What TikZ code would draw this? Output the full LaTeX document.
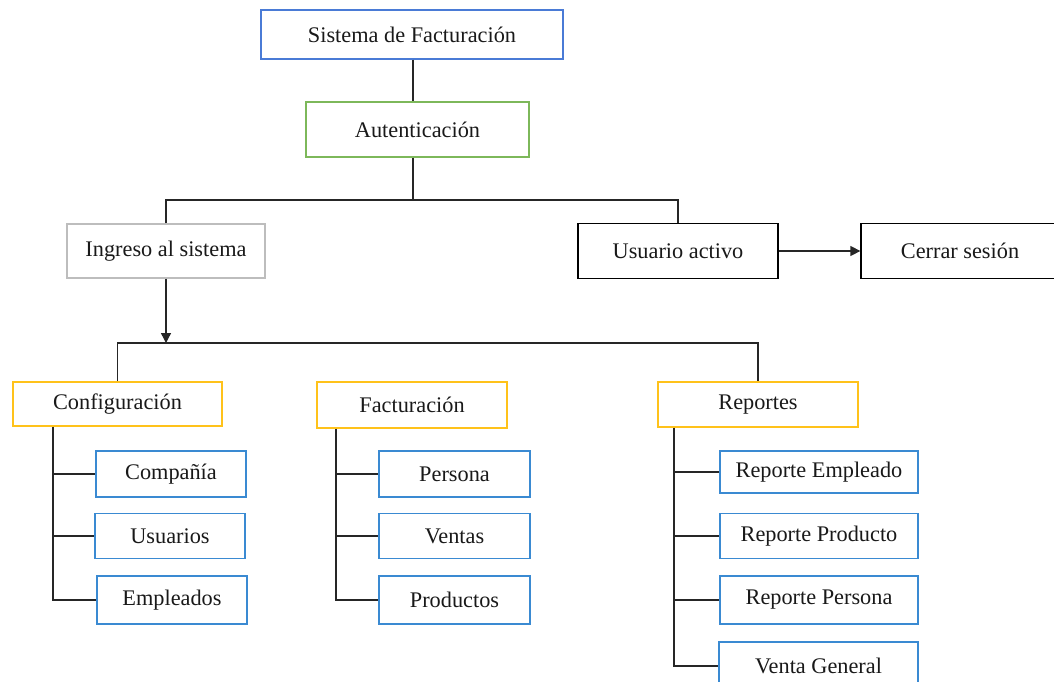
\documentclass[tikz,border=0pt]{standalone}
\usepackage{fontspec}
\setmainfont{Liberation Serif}
\usetikzlibrary{arrows.meta}
\definecolor{cblue}{HTML}{4A7BD6}
\definecolor{cgreen}{HTML}{7DB85A}
\definecolor{cgrey}{HTML}{BDBDBD}
\definecolor{cyellow}{HTML}{FFC21A}
\definecolor{cchild}{HTML}{3A8AD2}
\definecolor{cline}{HTML}{262626}
\tikzset{
  box/.style={draw, rectangle, inner sep=0pt, line width=1.3pt, fill=white,
    font=\fontsize{22.3}{26}\selectfont, text=black!90},
  conn/.style={draw=cline, line width=1.4pt},
  tip/.style={-{Triangle[length=10pt,width=10pt]}}
}
\begin{document}
\begin{tikzpicture}[x=1pt,y=-1pt]
\useasboundingbox (0,0) rectangle (1054,682);
\clip (0,0) rectangle (1054,682);
\fill[white] (0,0) rectangle (1054,682);

% nodes
\node[box, draw=cblue, minimum width=302, minimum height=49] (sis) at (412,34.5) {Sistema de Facturación};
\node[box, draw=cgreen, minimum width=223, minimum height=55] (aut) at (417.5,129.5) {Autenticación};
\node[box, draw=cgrey, minimum width=198, minimum height=54] (ing) at (166,251) {Ingreso al sistema};
\node[box, draw=black, minimum width=200, minimum height=55] (usu) at (678,251) {Usuario activo};
\node[box, draw=black, minimum width=198, minimum height=55] (cer) at (960,251) {Cerrar sesión};

\node[box, draw=cyellow, minimum width=209, minimum height=44] (conf) at (117.5,404) {Configuración};
\node[box, draw=cyellow, minimum width=190, minimum height=46] (fac) at (412,405) {Facturación};
\node[box, draw=cyellow, minimum width=200, minimum height=45] (rep) at (758,404.5) {Reportes};

\node[box, draw=cchild, minimum width=150, minimum height=46] (comp) at (171,474) {Compañía};
\node[box, draw=cchild, minimum width=150, minimum height=45] (usr) at (170,536) {Usuarios};
\node[box, draw=cchild, minimum width=150, minimum height=48] (emp) at (172,600) {Empleados};

\node[box, draw=cchild, minimum width=151, minimum height=46] (per) at (454.5,474) {Persona};
\node[box, draw=cchild, minimum width=151, minimum height=45] (ven) at (454.5,536) {Ventas};
\node[box, draw=cchild, minimum width=151, minimum height=48] (prod) at (454.5,600) {Productos};

\node[box, draw=cchild, minimum width=198, minimum height=42] (re) at (819,472) {Reporte Empleado};
\node[box, draw=cchild, minimum width=198, minimum height=45] (rpr) at (819,536) {Reporte Producto};
\node[box, draw=cchild, minimum width=198, minimum height=48] (rpe) at (819,600) {Reporte Persona};
\node[box, draw=cchild, minimum width=199, minimum height=48] (vg) at (818.5,666) {Venta General};

% top connectors
\coordinate (t1) at ([xshift=1pt]sis.south);
\draw[conn] (t1) -- (t1 |- aut.north);
\coordinate (j1) at (413,200);
\draw[conn] (t1 |- aut.south) -- (j1);
\draw[conn] (ing.north) |- (j1) -| (usu.north);
\draw[conn, tip] (usu.east) -- (cer.west);

\coordinate (j2) at (166,343);
\draw[conn, tip] (ing.south) -- (j2);
\draw[conn] (conf.north) |- (j2) -| (rep.north);

% configuracion branches
\coordinate (cs) at ([xshift=-64.5pt]conf.south);
\draw[conn] (cs) |- (emp.west);
\draw[conn] (cs |- comp.west) -- (comp.west);
\draw[conn] (cs |- usr.west) -- (usr.west);

% facturacion branches
\coordinate (fs) at ([xshift=-76pt]fac.south);
\draw[conn] (fs) |- (prod.west);
\draw[conn] (fs |- per.west) -- (per.west);
\draw[conn] (fs |- ven.west) -- (ven.west);

% reportes branches
\coordinate (rs) at ([xshift=-84pt]rep.south);
\draw[conn] (rs) |- (vg.west);
\draw[conn] (rs |- re.west) -- (re.west);
\draw[conn] (rs |- rpr.west) -- (rpr.west);
\draw[conn] (rs |- rpe.west) -- (rpe.west);
\end{tikzpicture}
\end{document}
